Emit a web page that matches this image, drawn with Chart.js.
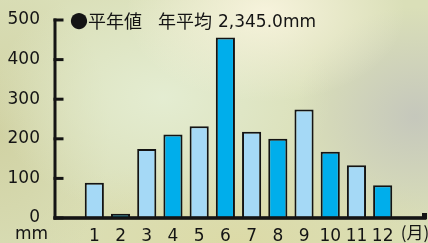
<!DOCTYPE html>
<html>
<head>
<meta charset="utf-8">
<script src="https://cdn.jsdelivr.net/npm/chart.js@4/dist/chart.umd.min.js"></script>
<style>
html,body{margin:0;padding:0;}
body{width:428px;height:243px;overflow:hidden;
background:
 radial-gradient(ellipse 140px 90px at 62% 5%, rgba(248,244,222,0.95), rgba(248,244,222,0) 100%),
 radial-gradient(ellipse 120px 110px at 97% 48%, rgba(196,198,188,0.95), rgba(196,198,188,0) 100%),
 radial-gradient(ellipse 170px 120px at 38% 40%, rgba(229,238,212,0.9), rgba(229,238,212,0) 100%),
 radial-gradient(ellipse 110px 160px at 0% 55%, rgba(208,209,162,0.95), rgba(208,209,162,0) 100%),
 radial-gradient(ellipse 220px 90px at 55% 100%, rgba(220,218,166,0.95), rgba(220,218,166,0) 100%),
 #dadfb8;}
canvas{display:block;}
</style>
</head>
<body>
<canvas id="c" width="428" height="243"></canvas>
<script>
const months = ['1','2','3','4','5','6','7','8','9','10','11','12'];
const rainfall = [89, 11, 174, 211, 232, 456, 218, 200, 274, 167, 133, 83];
const yTickValues = [0, 100, 200, 300, 400, 500];
const titleParts = ['●平年値', '年平均', '2,345.0mm'];
const yUnit = 'mm';
const xUnit = '(月)';

const lightBlue = '#a5d9f6';
const darkBlue = '#00aeeb';
const ink = '#141414';

const labels = [''].concat(months, ['']);
const data = [null].concat(rainfall, [null]);
const colors = labels.map((l, i) => (i % 2 === 1 ? lightBlue : darkBlue));

const latin = "'DejaVu Sans', sans-serif";
const cjk = "'Noto Sans CJK JP', sans-serif";

const decor = {
  id: 'decor',
  afterDatasetsDraw(chart) {
    const ctx = chart.ctx;
    const y = chart.scales.y, x = chart.scales.x;
    const left = chart.chartArea.left;
    const y0 = y.getPixelForValue(0);
    const yTop = y.getPixelForValue(500);
    ctx.save();
    ctx.fillStyle = ink;
    // y axis line
    ctx.fillRect(left - 1.5, yTop - 1.5, 3, y0 - yTop + 3);
    // inward ticks
    yTickValues.forEach(v => {
      const py = y.getPixelForValue(v);
      ctx.fillRect(left - 1.5, py - 1.5, 10, 3);
    });
    // x axis line
    ctx.fillRect(left - 1.5, y0 - 1.8, 428 - left, 3.6);
    // end cap
    ctx.fillRect(422, y0 - 5, 5, 6);
    // unit labels
    ctx.font = '17px ' + latin;
    ctx.textBaseline = 'alphabetic';
    ctx.textAlign = 'right';
    ctx.fillText(yUnit, left - 7, 239);
    ctx.textAlign = 'center';
    ctx.font = '17px ' + cjk;
    ctx.fillText(xUnit, x.getPixelForValue(labels.length - 1) + 6, 239);
    // title
    ctx.textAlign = 'left';
    ctx.textBaseline = 'middle';
    ctx.font = '18px ' + cjk;
    ctx.fillText(titleParts[0], 70, 21);
    ctx.fillText(titleParts[1], 158, 21);
    ctx.font = '17px ' + latin;
    ctx.textBaseline = 'alphabetic';
    ctx.fillText(titleParts[2], 218, 27);
    ctx.restore();
  }
};

new Chart(document.getElementById('c'), {
  type: 'bar',
  data: {
    labels: labels,
    datasets: [{
      data: data,
      backgroundColor: colors,
      borderColor: ink,
      borderWidth: 2,
      categoryPercentage: 1,
      barPercentage: 0.73
    }]
  },
  options: {
    responsive: false,
    devicePixelRatio: 1,
    animation: false,
    layout: { padding: { left: 0, right: 6, top: 20, bottom: 0 } },
    plugins: { legend: { display: false }, tooltip: { enabled: false }, title: { display: false } },
    scales: {
      x: {
        grid: { display: false },
        border: { display: false },
        ticks: { color: ink, font: { family: latin, size: 17 }, padding: 0, maxRotation: 0, autoSkip: false },
        afterFit(s) { s.height = 25; }
      },
      y: {
        min: 0, max: 500,
        grid: { display: false },
        border: { display: false },
        ticks: { color: ink, font: { family: latin, size: 17 }, padding: 7, stepSize: 100,
          callback: v => (yTickValues.includes(v) ? String(v) : '') },
        afterFit(s) { s.width = 55; }
      }
    }
  },
  plugins: [decor]
});
</script>
</body>
</html>
